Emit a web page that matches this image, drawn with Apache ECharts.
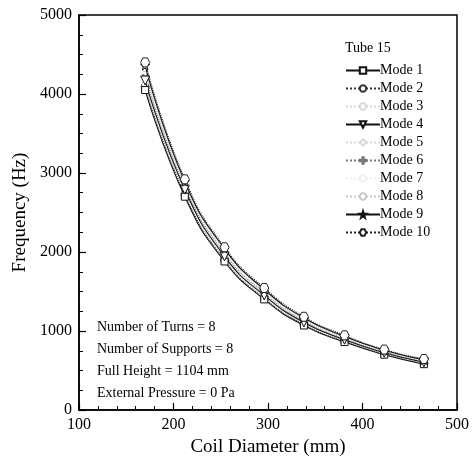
<!DOCTYPE html>
<html>
<head>
<meta charset="utf-8">
<script src="https://cdn.jsdelivr.net/npm/echarts@6/dist/echarts.min.js"></script>
<style>
  html, body { margin: 0; padding: 0; background: #fff; }
  #chart { width: 472px; height: 469px; }
</style>
</head>
<body>
<div id="chart"></div>
<script>
// Coil diameters (mm) at which natural frequencies were computed
const diameters = [170, 212, 254, 296, 338, 381, 423, 465];

// Natural frequencies (Hz) of the first ten modes
const mode1  = [4050, 2700, 1880, 1400, 1070, 860, 700, 580];
const mode2  = [4090, 2730, 1900, 1415, 1085, 870, 710, 590];
const mode3  = [4130, 2760, 1925, 1430, 1095, 880, 718, 598];
const mode4  = [4170, 2790, 1945, 1450, 1108, 890, 725, 604];
const mode5  = [4210, 2810, 1965, 1465, 1120, 898, 732, 610];
const mode6  = [4240, 2830, 1985, 1480, 1130, 906, 738, 616];
const mode7  = [4280, 2850, 2000, 1495, 1140, 914, 744, 622];
const mode8  = [4320, 2870, 2020, 1510, 1152, 922, 750, 628];
const mode9  = [4360, 2890, 2040, 1525, 1165, 930, 757, 634];
const mode10 = [4400, 2920, 2060, 1545, 1180, 945, 765, 645];

const modeNames = ['Mode 1', 'Mode 2', 'Mode 3', 'Mode 4', 'Mode 5',
                   'Mode 6', 'Mode 7', 'Mode 8', 'Mode 9', 'Mode 10'];
const modeValues = [mode1, mode2, mode3, mode4, mode5, mode6, mode7, mode8, mode9, mode10];

const xTicks = [100, 500, 100];   // min, max, interval
const yTicks = [0, 5000, 1000];

const notes = [
  'Number of Turns = 8',
  'Number of Supports = 8',
  'Full Height = 1104 mm',
  'External Pressure = 0 Pa'
];

const SERIF = '"Liberation Serif", "DejaVu Serif", serif';

const STAR = 'path://M50,0 L61,35 L98,35 L68,57 L79,91 L50,70 L21,91 L32,57 L2,35 L39,35 Z';
const HEX = 'path://M25,0 L75,0 L100,50 L75,100 L25,100 L0,50 Z';
const PLUS = 'path://M40,0 L60,0 L60,40 L100,40 L100,60 L60,60 L60,100 L40,100 L40,60 L0,60 L0,40 L40,40 Z';

// Per-mode marker and line styling
const styles = [
  { symbol: 'rect',     size: 7, rotate: 0,   color: '#111', type: 'solid'  },
  { symbol: 'circle',   size: 8, rotate: 0,   color: '#333', type: 'dotted' },
  { symbol: 'circle',   size: 6, rotate: 0,   color: '#d8d8d8', type: 'dotted' },
  { symbol: 'triangle', size: 9, rotate: 180, color: '#111', type: 'solid'  },
  { symbol: 'diamond',  size: 6, rotate: 0,   color: '#d8d8d8', type: 'dotted' },
  { symbol: PLUS,       size: 6, rotate: 0,   color: '#777', type: 'dotted' },
  { symbol: 'circle',   size: 5, rotate: 0,   color: '#eeeeee', type: 'dotted' },
  { symbol: 'circle',   size: 6, rotate: 0,   color: '#c8c8c8', type: 'dotted' },
  { symbol: STAR,       size: 9, rotate: 0,   color: '#111', type: 'solid'  },
  { symbol: HEX,        size: 9, rotate: 0,   color: '#222', type: 'dotted' }
];

const series = modeNames.map((name, i) => ({
  name: name,
  type: 'line',
  smooth: true,
  data: diameters.map((d, j) => [d, modeValues[i][j]]),
  symbol: styles[i].symbol,
  symbolSize: styles[i].size,
  symbolRotate: styles[i].rotate,
  showAllSymbol: true,
  lineStyle: { color: styles[i].color, width: 1.1, type: styles[i].type },
  itemStyle: { color: '#fff', borderColor: styles[i].color, borderWidth: 1 },
  emphasis: { disabled: true },
  z: 2 + (styles[i].color === '#111' || styles[i].color === '#222' ? 1 : 0)
}));

const chart = echarts.init(document.getElementById('chart'), null, { renderer: 'canvas' });

const plainNumber = v => String(v);

chart.setOption({
  animation: false,
  backgroundColor: '#fff',
  title: {
    text: 'Tube 15',
    left: 340,
    top: 36,
    textStyle: { fontFamily: SERIF, fontSize: 14, fontWeight: 'normal', color: '#000' }
  },
  legend: {
    orient: 'vertical',
    left: 340,
    top: 58,
    itemWidth: 34,
    itemHeight: 8,
    itemGap: 3,
    textStyle: { fontFamily: SERIF, fontSize: 14, lineHeight: 15, color: '#000', padding: [0, 0, 0, -5] },
    data: modeNames
  },
  grid: {
    left: 79, right: 14, top: 15, bottom: 59,
    show: true, borderColor: '#000', borderWidth: 1.5,
    containLabel: false
  },
  xAxis: {
    type: 'value',
    min: xTicks[0], max: xTicks[1], interval: xTicks[2],
    name: 'Coil Diameter (mm)',
    nameLocation: 'middle',
    nameGap: 28,
    nameTextStyle: { fontFamily: SERIF, fontSize: 19, color: '#000' },
    axisLine: { show: true, lineStyle: { color: '#000', width: 1.5 } },
    axisTick: { show: true, inside: true, length: 7, lineStyle: { color: '#000', width: 1.2 } },
    minorTick: { show: true, splitNumber: 5, length: 4, lineStyle: { color: '#000', width: 1 } },
    axisLabel: { fontFamily: SERIF, fontSize: 16, color: '#000', margin: 7, formatter: plainNumber },
    splitLine: { show: false }
  },
  yAxis: {
    type: 'value',
    min: yTicks[0], max: yTicks[1], interval: yTicks[2],
    name: 'Frequency (Hz)',
    nameLocation: 'middle',
    nameGap: 42,
    nameTextStyle: { fontFamily: SERIF, fontSize: 19, color: '#000' },
    axisLine: { show: true, lineStyle: { color: '#000', width: 1.5 } },
    axisTick: { show: true, inside: true, length: 7, lineStyle: { color: '#000', width: 1.2 } },
    minorTick: { show: true, splitNumber: 4, length: 4, lineStyle: { color: '#000', width: 1 } },
    axisLabel: { fontFamily: SERIF, fontSize: 16, color: '#000', margin: 7, formatter: plainNumber },
    splitLine: { show: false }
  },
  graphic: notes.map((t, i) => ({
    type: 'text',
    left: 97,
    top: 320 + i * 22,
    style: { text: t, font: '14px ' + SERIF, fill: '#000' }
  })),
  series: series
});
</script>
</body>
</html>
